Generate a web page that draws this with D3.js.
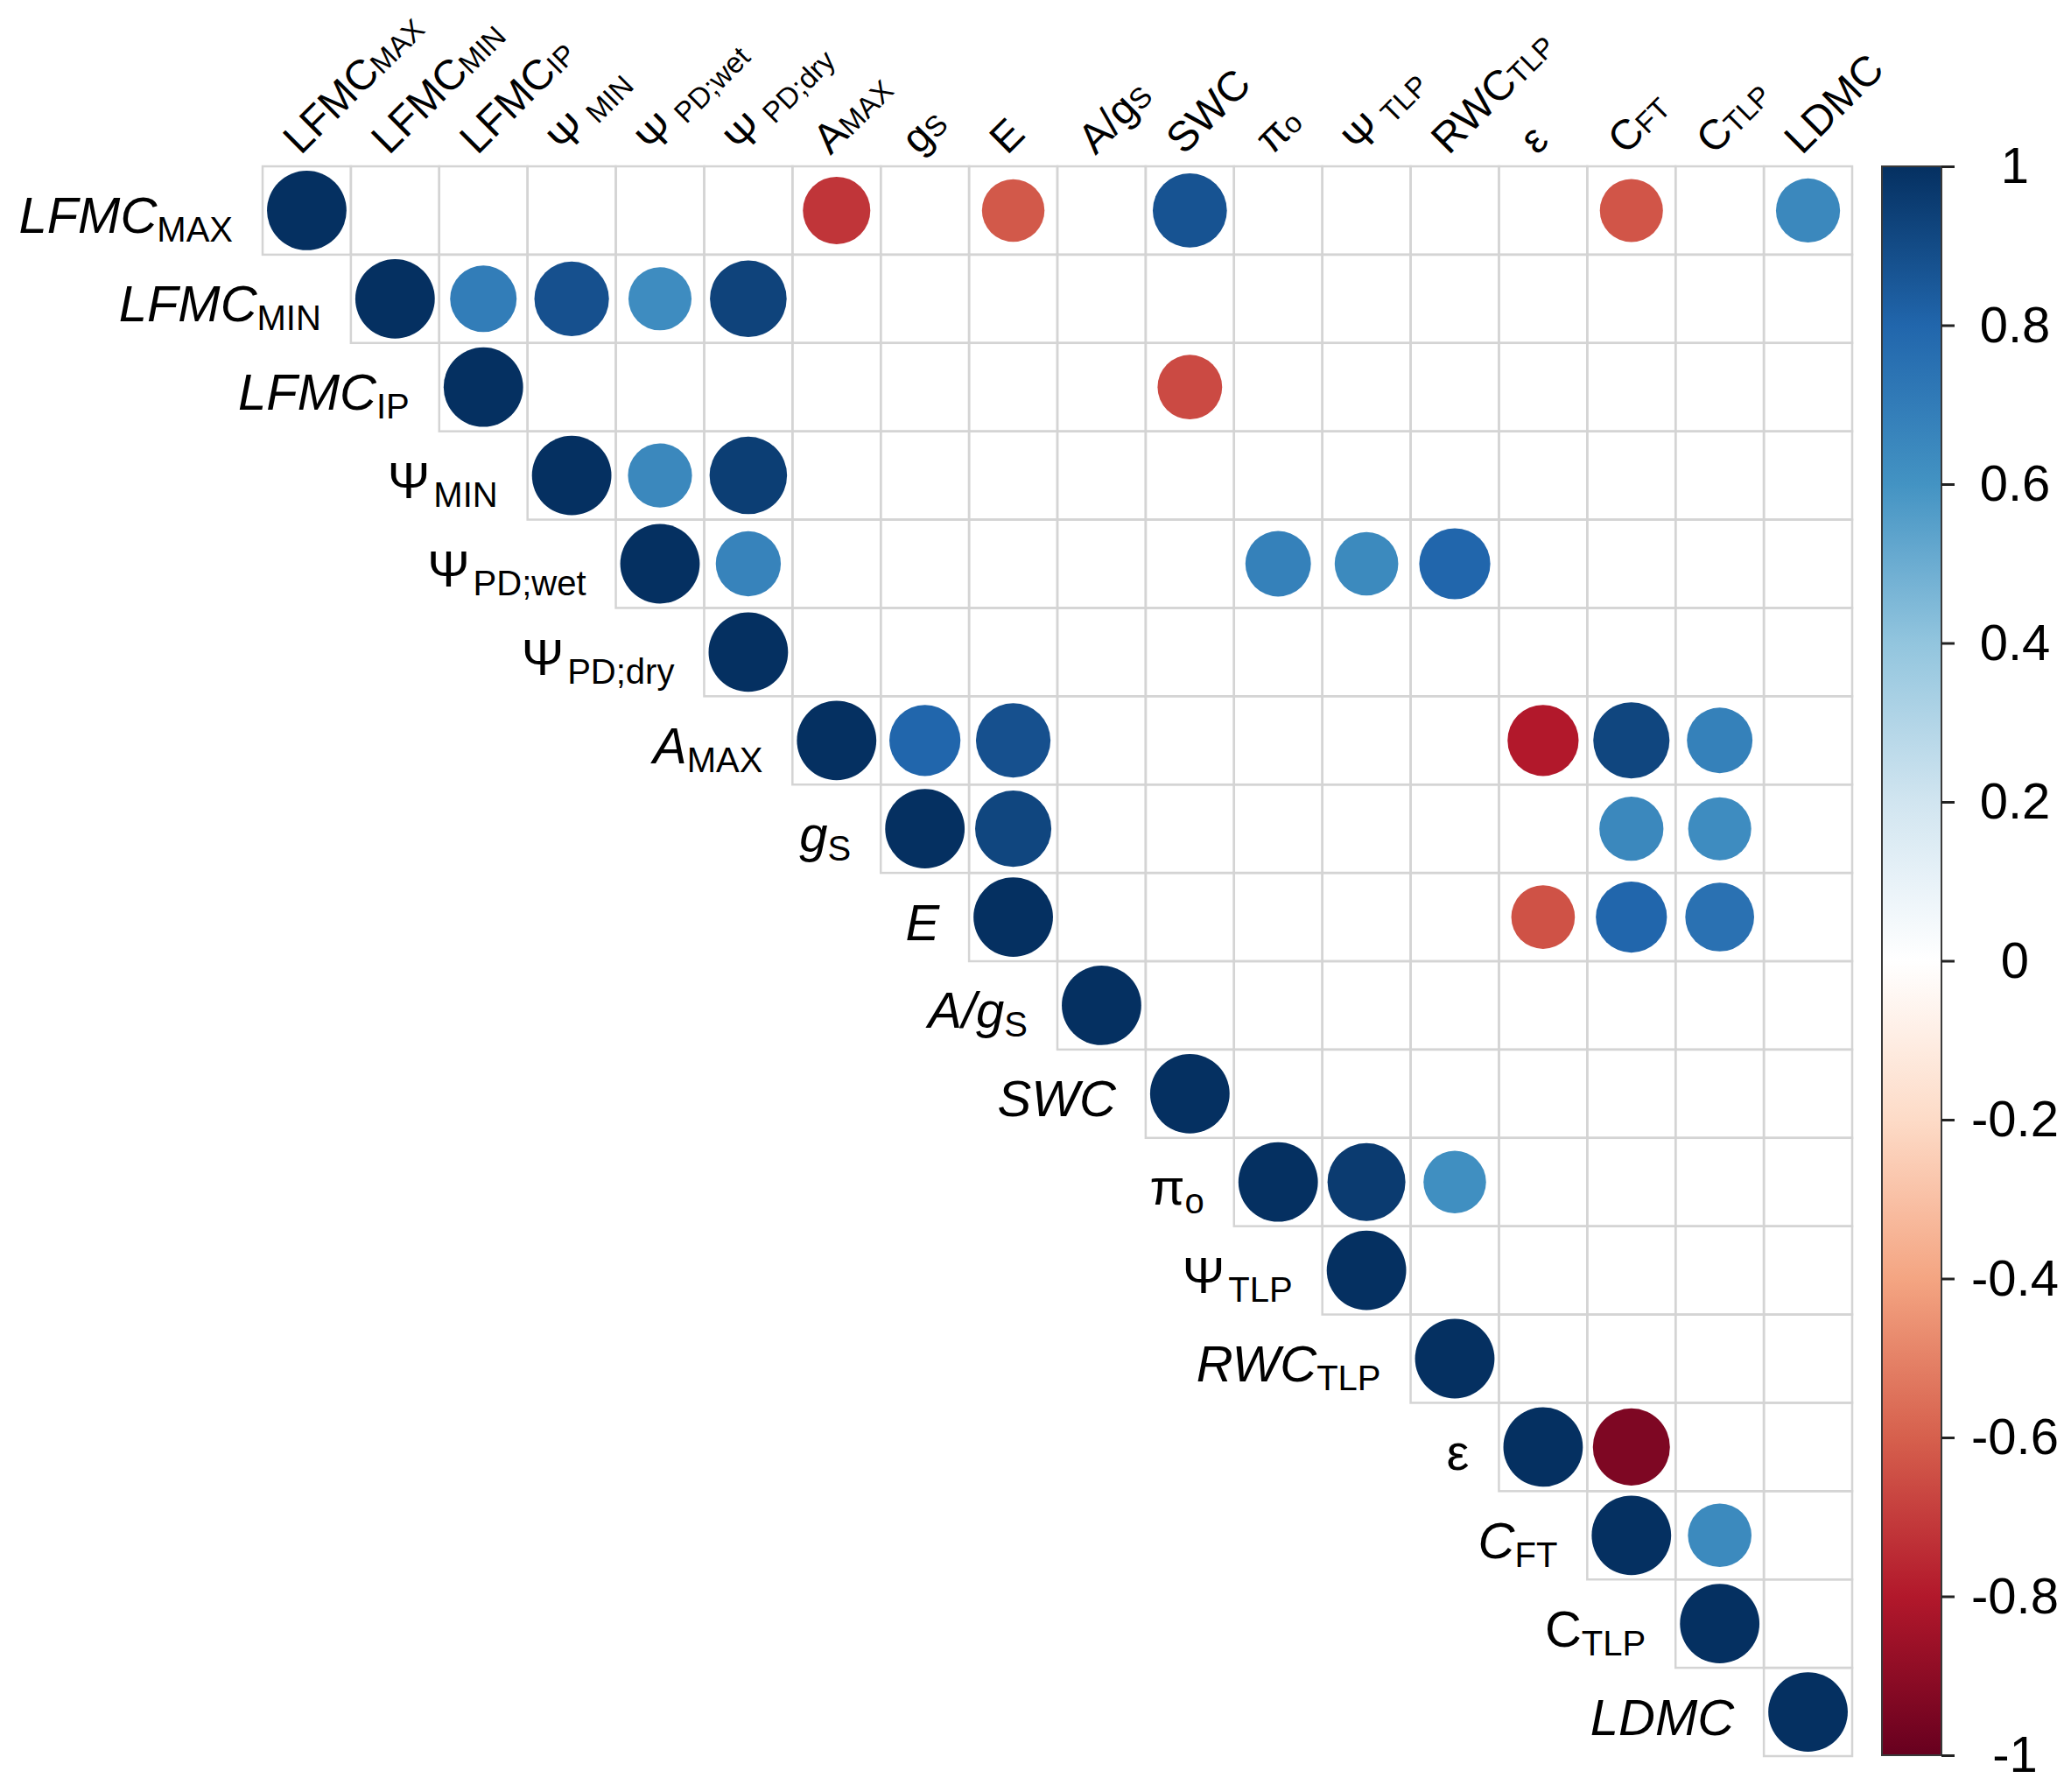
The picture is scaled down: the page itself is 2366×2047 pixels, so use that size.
<!DOCTYPE html>
<html>
<head>
<meta charset="utf-8">
<script src="https://cdn.jsdelivr.net/npm/d3@7/dist/d3.min.js"></script>
<style>
  body { margin: 0; background: #fff; }
  text { font-family: "Liberation Sans", Arial, sans-serif; fill: #000; }
</style>
</head>
<body>
<svg id="chart"></svg>
<script>
// variable names: main part, subscript, whether the row label main part is italic
var labelMain = [ 'LFMC', 'LFMC', 'LFMC', 'Ψ', 'Ψ', 'Ψ', 'A', 'g', 'E', 'A/g', 'SWC', 'π', 'Ψ', 'RWC', 'ε', 'C', 'C', 'LDMC' ];
var labelSub = [ 'MAX', 'MIN', 'IP', 'MIN', 'PD;wet', 'PD;dry', 'MAX', 'S', '', 'S', '', 'o', 'TLP', 'TLP', '', 'FT', 'TLP', '' ];
var rowItalic = [ true, true, true, false, false, false, true, true, true, true, true, false, false, true, false, true, false, true ];

// significant correlations [row, col, r], upper triangle
var corrs = [
    [ 0, 0, 1 ], [ 0, 6, -0.72 ], [ 0, 8, -0.62 ], [ 0, 10, 0.87 ], [ 0, 15, -0.63 ], [ 0, 17, 0.65 ],
    [ 1, 1, 1 ], [ 1, 2, 0.7 ], [ 1, 3, 0.88 ], [ 1, 4, 0.63 ], [ 1, 5, 0.93 ],
    [ 2, 2, 1 ], [ 2, 10, -0.66 ],
    [ 3, 3, 1 ], [ 3, 4, 0.65 ], [ 3, 5, 0.95 ],
    [ 4, 4, 1 ], [ 4, 5, 0.67 ], [ 4, 11, 0.68 ], [ 4, 12, 0.64 ], [ 4, 13, 0.8 ],
    [ 5, 5, 1 ],
    [ 6, 6, 1 ], [ 6, 7, 0.8 ], [ 6, 8, 0.88 ], [ 6, 14, -0.8 ], [ 6, 15, 0.92 ], [ 6, 16, 0.68 ],
    [ 7, 7, 1 ], [ 7, 8, 0.92 ], [ 7, 15, 0.65 ], [ 7, 16, 0.63 ],
    [ 8, 8, 1 ], [ 8, 14, -0.64 ], [ 8, 15, 0.8 ], [ 8, 16, 0.75 ],
    [ 9, 9, 1 ],
    [ 10, 10, 1 ],
    [ 11, 11, 1 ], [ 11, 12, 0.96 ], [ 11, 13, 0.62 ],
    [ 12, 12, 1 ],
    [ 13, 13, 1 ],
    [ 14, 14, 1 ], [ 14, 15, -0.94 ],
    [ 15, 15, 1 ], [ 15, 16, 0.64 ],
    [ 16, 16, 1 ],
    [ 17, 17, 1 ]
];

var barTicks = [ 1, 0.8, 0.6, 0.4, 0.2, 0, -0.2, -0.4, -0.6, -0.8, -1 ];
var rdbu = [ '#67001F', '#B2182B', '#D6604D', '#F4A582', '#FDDBC7', '#FFFFFF', '#D1E5F0', '#92C5DE', '#4393C3', '#2166AC', '#053061' ];

var W = 2366, H = 2047,
    n = labelMain.length;

var svg = d3.select( '#chart' )
    .attr( 'width', W )
    .attr( 'height', H );

svg.append( 'rect' ).attr( 'width', W ).attr( 'height', H ).attr( 'fill', '#fff' );

var x = d3.scaleBand().domain( d3.range( n ) ).range( [ 300, 2116 ] ),
    y = d3.scaleBand().domain( d3.range( n ) ).range( [ 190, 2006 ] ),
    bw = x.bandwidth(),
    r = d3.scaleSqrt().domain( [ 0, 1 ] ).range( [ 0, bw * 0.45 ] ),
    color = d3.scaleLinear().domain( d3.range( 11 ).map( function( i ) { return -1 + i * 0.2; } ) ).range( rdbu );

// upper triangle grid
var cells = [];
d3.range( n ).forEach( function( i ) {
    d3.range( i, n ).forEach( function( j ) { cells.push( [ i, j ] ); } );
} );

svg.append( 'g' ).selectAll( 'rect' )
    .data( cells )
    .enter().append( 'rect' )
    .attr( 'x', function( d ) { return x( d[ 1 ] ); } )
    .attr( 'y', function( d ) { return y( d[ 0 ] ); } )
    .attr( 'width', bw )
    .attr( 'height', bw )
    .attr( 'fill', 'none' )
    .attr( 'stroke', '#d4d4d4' )
    .attr( 'stroke-width', 2.5 );

svg.append( 'g' ).selectAll( 'circle' )
    .data( corrs )
    .enter().append( 'circle' )
    .attr( 'cx', function( d ) { return x( d[ 1 ] ) + bw / 2; } )
    .attr( 'cy', function( d ) { return y( d[ 0 ] ) + bw / 2; } )
    .attr( 'r', function( d ) { return r( Math.abs( d[ 2 ] ) ); } )
    .attr( 'fill', function( d ) { return color( d[ 2 ] ); } );

// row labels, right aligned next to the diagonal
var rows = svg.append( 'g' ).selectAll( 'text' )
    .data( d3.range( n ) )
    .enter().append( 'text' )
    .attr( 'x', function( i ) { return x( i ) - 34; } )
    .attr( 'y', function( i ) { return y( i ) + bw / 2 + 26; } )
    .attr( 'text-anchor', 'end' )
    .attr( 'font-size', 58 );

rows.append( 'tspan' )
    .attr( 'font-style', function( i ) { return rowItalic[ i ] ? 'italic' : 'normal'; } )
    .text( function( i ) { return labelMain[ i ]; } );

rows.filter( function( i ) { return labelSub[ i ]; } )
    .append( 'tspan' )
    .attr( 'dx', function( i ) { return labelMain[ i ] === 'Ψ' ? 4 : 0; } )
    .attr( 'dy', 10 )
    .attr( 'font-size', 40 )
    .text( function( i ) { return labelSub[ i ]; } );

// column labels, rotated 45 degrees above the grid
var cols = svg.append( 'g' ).selectAll( 'text' )
    .data( d3.range( n ) )
    .enter().append( 'text' )
    .attr( 'transform', function( i ) { return 'translate(' + ( x( i ) + bw / 2 - 7 ) + ',' + ( 190 - 12 ) + ') rotate(-45)'; } )
    .attr( 'font-size', 48 );

cols.append( 'tspan' )
    .text( function( i ) { return labelMain[ i ]; } );

cols.filter( function( i ) { return labelSub[ i ]; } )
    .append( 'tspan' )
    .attr( 'dx', function( i ) { return labelMain[ i ] === 'Ψ' ? 11 : 0; } )
    .attr( 'dy', 1 )
    .attr( 'font-size', 33 )
    .text( function( i ) { return labelSub[ i ]; } );

// colour bar
var barX = 2150, barW = 68,
    yBar = d3.scaleLinear().domain( [ -1, 1 ] ).range( [ 2005, 190 ] );

var grad = svg.append( 'defs' ).append( 'linearGradient' )
    .attr( 'id', 'rdbu' )
    .attr( 'x1', 0 ).attr( 'y1', 1 )
    .attr( 'x2', 0 ).attr( 'y2', 0 );

grad.selectAll( 'stop' )
    .data( d3.range( 0, 1.0001, 0.05 ) )
    .enter().append( 'stop' )
    .attr( 'offset', function( t ) { return t; } )
    .attr( 'stop-color', function( t ) { return color( -1 + 2 * t ); } );

svg.append( 'rect' )
    .attr( 'x', barX )
    .attr( 'y', yBar( 1 ) )
    .attr( 'width', barW )
    .attr( 'height', yBar( -1 ) - yBar( 1 ) )
    .attr( 'fill', 'url(#rdbu)' )
    .attr( 'stroke', '#3a3a3a' )
    .attr( 'stroke-width', 2 );

var axis = d3.axisRight( yBar )
    .tickValues( barTicks )
    .tickSize( 15 )
    .tickFormat( function( v ) { return String( Math.round( v * 10 ) / 10 ); } );

var gAxis = svg.append( 'g' )
    .attr( 'transform', 'translate(' + ( barX + barW ) + ',0)' )
    .call( axis );

gAxis.select( '.domain' ).remove();
gAxis.selectAll( '.tick line' ).attr( 'stroke', '#222' ).attr( 'stroke-width', 3 );
gAxis.selectAll( '.tick text' )
    .attr( 'x', 84 )
    .attr( 'text-anchor', 'middle' )
    .attr( 'font-size', 58 )
    .attr( 'font-family', '"Liberation Sans", Arial, sans-serif' )
    .attr( 'fill', '#000' );
</script>
</body>
</html>
